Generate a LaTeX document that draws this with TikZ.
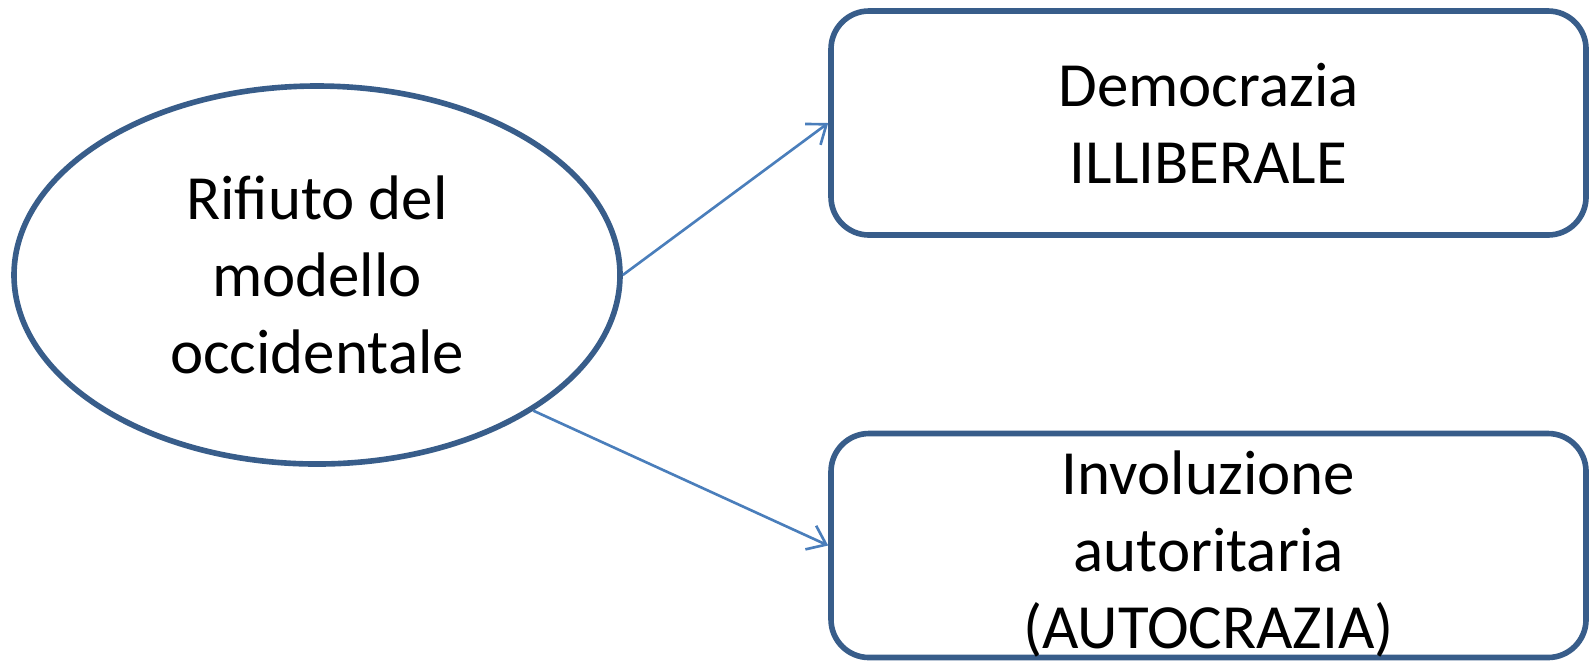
\documentclass[tikz,border=0pt]{standalone}
\usepackage{fontspec}
\setmainfont{Carlito}
\usetikzlibrary{shapes.geometric,arrows.meta}
\definecolor{bordo}{HTML}{385D8A}
\definecolor{blufreccia}{HTML}{4A7EBB}

\begin{document}
\begin{tikzpicture}[
		every node/.style={font=\fontsize{17.9}{21.9}\selectfont},
		ovale/.style={draw=bordo,line width=1.6pt,ellipse,minimum width=6.06cm,minimum height=3.78cm,inner sep=0pt,align=center},
		riquadro/.style={draw=bordo,line width=1.6pt,rounded corners=0.38cm,minimum width=7.55cm,minimum height=2.24cm,inner sep=0pt,align=center},
		freccia/.style={draw=blufreccia,line width=0.75pt,-{Straight Barb[length=1.7mm,width=2.6mm]}}
	]
		\useasboundingbox (0,0) rectangle (15.89,-6.60);
		\node[ovale] (rif) at (3.17,-2.75) {Rifiuto del\\modello\\occidentale};
		\node[riquadro] (demo) at (12.085,-1.23) {Democrazia\\ILLIBERALE};
		\node[riquadro] (invo) at (12.085,-5.455) {\rule{0pt}{0.6cm}Involuzione\\autoritaria\\(AUTOCRAZIA)};
		\draw[freccia] (rif.east) -- (demo.west);
		\draw[freccia] (rif.south east) -- (invo.west);
	\end{tikzpicture}
\end{document}
